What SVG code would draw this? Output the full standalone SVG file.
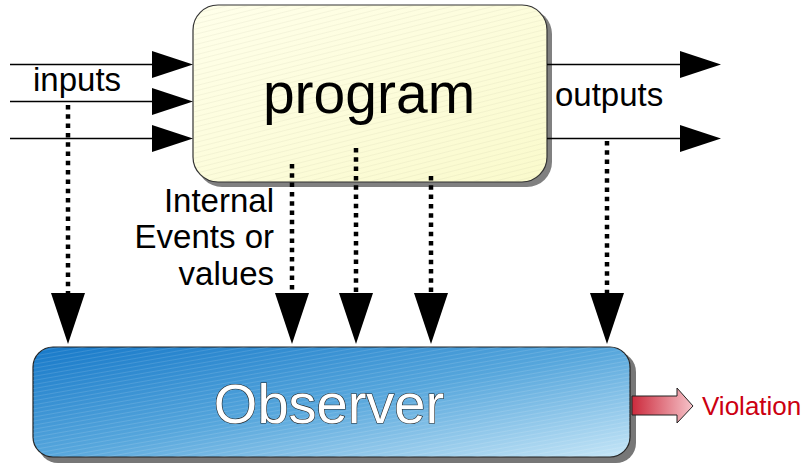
<svg xmlns="http://www.w3.org/2000/svg" width="806" height="466" viewBox="0 0 806 466">
<defs>
<linearGradient id="gProg" x1="0" y1="0" x2="1" y2="1">
<stop offset="0" stop-color="#ffffea"/>
<stop offset="1" stop-color="#fafacc"/>
</linearGradient>
<linearGradient id="gObs" x1="0" y1="0" x2="1" y2="1">
<stop offset="0" stop-color="#1779c9"/>
<stop offset="0.5" stop-color="#56a6dc"/>
<stop offset="1" stop-color="#c6e6f7"/>
</linearGradient>
<linearGradient id="gVio" x1="0" y1="0" x2="1" y2="0">
<stop offset="0" stop-color="#cc2a3c"/>
<stop offset="1" stop-color="#f6c4ca"/>
</linearGradient>
<pattern id="hatch" width="5" height="5" patternUnits="userSpaceOnUse" patternTransform="rotate(-14)">
<line x1="0" y1="0.5" x2="5" y2="0.5" stroke="#a0a080" stroke-opacity="0.1" stroke-width="1"/>
</pattern>
<pattern id="hatchW" width="4" height="4" patternUnits="userSpaceOnUse" patternTransform="rotate(-10)">
<line x1="0" y1="0.5" x2="4" y2="0.5" stroke="#fff" stroke-opacity="0.12" stroke-width="1"/>
</pattern>
</defs>
<style>
.ln{stroke:#000;stroke-width:1.5;fill:none}
.dot{stroke:#000;stroke-width:4.5;stroke-dasharray:4.5 4.8;fill:none}
.hd{fill:#000}
.lbl{font-family:"Liberation Sans",Arial,sans-serif;fill:#000}
</style>

<g id="program">
<rect x="197" y="9" width="355" height="178" rx="25" fill="#808080"/>
<rect x="193" y="5" width="354" height="177" rx="25" fill="url(#gProg)" stroke="#333" stroke-width="1.2"/>
<rect x="193" y="5" width="354" height="177" rx="25" fill="url(#hatch)"/>
<text class="lbl" x="369" y="113" font-size="57" text-anchor="middle">program</text>
</g>

<g id="observer">
<rect x="38" y="352" width="598" height="111" rx="20" fill="#777"/>
<rect x="33" y="347" width="597" height="110" rx="20" fill="url(#gObs)" stroke="#222" stroke-width="1.2"/>
<rect x="33" y="347" width="597" height="110" rx="20" fill="url(#hatchW)"/>
<text x="329" y="423" font-family="Liberation Sans,Arial,sans-serif" font-size="56" text-anchor="middle" fill="#fff" stroke="#222" stroke-width="1.2" paint-order="stroke">Observer</text>
</g>

<g id="violation">
<path d="M632,396 L677,396 L677,388 L693,406 L677,423 L677,415 L632,415 Z" fill="url(#gVio)" stroke="#222" stroke-width="1"/>
<text x="702" y="415" font-family="Liberation Sans,Arial,sans-serif" font-size="26" fill="#cc0011">Violation</text>
</g>

<g id="labels">
<text class="lbl" x="33" y="91" font-size="33">inputs</text>
<text class="lbl" x="555" y="106" font-size="33">outputs</text>
<text class="lbl" x="274" y="212" font-size="33" text-anchor="end">Internal</text>
<text class="lbl" x="274" y="248" font-size="33" text-anchor="end">Events or</text>
<text class="lbl" x="274" y="285" font-size="33" text-anchor="end">values</text>
</g>

<g id="connectors">
<line class="ln" x1="10" y1="64.5" x2="155" y2="64.5"/>
<polygon class="hd" points="152,51 193,64.5 152,78"/>
<line class="ln" x1="10" y1="101.5" x2="155" y2="101.5"/>
<polygon class="hd" points="152,88 193,101.5 152,115"/>
<line class="ln" x1="10" y1="138.5" x2="155" y2="138.5"/>
<polygon class="hd" points="152,125 193,138.5 152,152"/>

<line class="ln" x1="547" y1="64.5" x2="682" y2="64.5"/>
<polygon class="hd" points="680,51 721,64.5 680,78"/>
<line class="ln" x1="547" y1="138.5" x2="682" y2="138.5"/>
<polygon class="hd" points="680,125 721,138.5 680,152"/>

<line class="dot" x1="68" y1="105" x2="68" y2="293"/>
<polygon class="hd" points="51,293 85,293 68,344"/>
<line class="dot" x1="292" y1="164" x2="292" y2="293"/>
<polygon class="hd" points="275,293 309,293 292,344"/>
<line class="dot" x1="356" y1="148" x2="356" y2="293"/>
<polygon class="hd" points="339,293 373,293 356,344"/>
<line class="dot" x1="431" y1="176" x2="431" y2="293"/>
<polygon class="hd" points="414,293 448,293 431,344"/>
<line class="dot" x1="607" y1="141" x2="607" y2="293"/>
<polygon class="hd" points="590,293 624,293 607,344"/>
</g>
</svg>
